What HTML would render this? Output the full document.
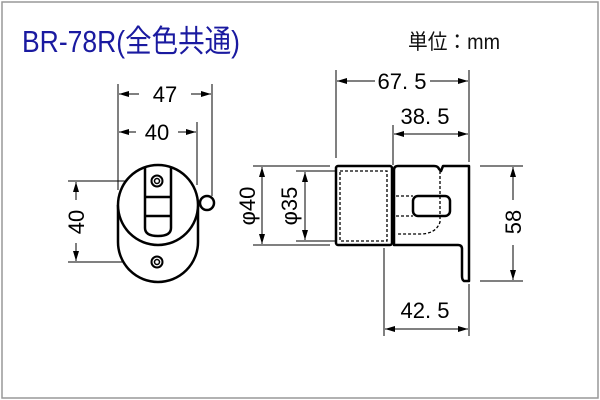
<!DOCTYPE html><html><head><meta charset="utf-8"><style>body{margin:0;background:#fff}svg{display:block}</style></head><body>
<svg width="600" height="400" viewBox="0 0 600 400" xmlns="http://www.w3.org/2000/svg" font-family="Liberation Sans, Noto Sans CJK JP, sans-serif">
<defs><marker id="a" viewBox="0 0 10 6" refX="10" refY="3" markerWidth="10" markerHeight="6" orient="auto-start-reverse" markerUnits="userSpaceOnUse"><path d="M0,0L10,3L0,6z" fill="#000"/></marker></defs>
<rect x="2" y="2" width="596" height="396" fill="none" stroke="#999" stroke-width="1.5"/>
<text x="22" y="52" font-size="31" fill="#1a1aa0" textLength="218" lengthAdjust="spacingAndGlyphs">BR-78R(全色共通)</text>
<text x="408" y="49" font-size="21" fill="#111" textLength="92" lengthAdjust="spacingAndGlyphs">単位：mm</text>
<g stroke="#000" stroke-width="1" fill="none">
<line x1="118" y1="84" x2="118" y2="190"/><line x1="212" y1="84" x2="212" y2="196"/>
<line x1="197" y1="122" x2="197" y2="185"/>
<line x1="119" y1="94" x2="139" y2="94" marker-start="url(#a)"/><line x1="191" y1="94" x2="211" y2="94" marker-end="url(#a)"/>
<line x1="119" y1="132" x2="136" y2="132" marker-start="url(#a)"/><line x1="178" y1="132" x2="196" y2="132" marker-end="url(#a)"/>
<line x1="68" y1="181" x2="152" y2="181"/><line x1="68" y1="262" x2="152" y2="262"/>
<line x1="76" y1="182" x2="76" y2="200" marker-start="url(#a)"/><line x1="76" y1="243" x2="76" y2="261" marker-end="url(#a)"/>
</g>
<g stroke="#000" stroke-width="2.5" fill="#fff">
<circle cx="207" cy="203" r="7"/>
<path d="M118,205 L118,242 A40,40 0 0 0 198,242 L198,205"/>
<circle cx="158" cy="205" r="40"/>
<path d="M145,168 L145,228 Q145,236 158,236 Q171,236 171,228 L171,168" fill="none"/>
<line x1="145" y1="197" x2="171" y2="197"/><line x1="145" y1="216" x2="171" y2="216"/>
<circle cx="157" cy="181" r="5.5" stroke-width="2"/><circle cx="157" cy="181" r="2.5" stroke-width="1.5"/>
<circle cx="157" cy="262" r="5.5" stroke-width="2"/><circle cx="157" cy="262" r="2.5" stroke-width="1.5"/>
</g>
<g font-size="22" text-anchor="middle" fill="#000">
<text x="165" y="102">47</text><text x="157" y="140">40</text>
<text transform="translate(84,222) rotate(-90)">40</text>
<text x="402" y="89">67. 5</text><text x="425" y="124">38. 5</text><text x="425" y="318">42. 5</text>
<text transform="translate(521,222) rotate(-90)">58</text>
<text transform="translate(255,206) rotate(-90)">φ40</text>
<text transform="translate(297,206) rotate(-90)">φ35</text>
</g>
<g stroke="#000" stroke-width="1" fill="none">
<line x1="336" y1="70" x2="336" y2="158"/><line x1="469" y1="70" x2="469" y2="162"/>
<line x1="337" y1="81" x2="375" y2="81" marker-start="url(#a)"/><line x1="430" y1="81" x2="468" y2="81" marker-end="url(#a)"/>
<line x1="393" y1="125" x2="393" y2="165"/>
<line x1="394" y1="134" x2="468" y2="134" marker-start="url(#a)" marker-end="url(#a)"/>
<line x1="253" y1="166" x2="330" y2="166"/><line x1="253" y1="245" x2="330" y2="245"/>
<line x1="262" y1="167" x2="262" y2="244" marker-start="url(#a)" marker-end="url(#a)"/>
<line x1="296" y1="171" x2="335" y2="171"/><line x1="296" y1="241" x2="335" y2="241"/>
<line x1="305" y1="172" x2="305" y2="240" marker-start="url(#a)" marker-end="url(#a)"/>
<line x1="480" y1="166" x2="523" y2="166"/><line x1="480" y1="281" x2="523" y2="281"/>
<line x1="513" y1="167" x2="513" y2="200" marker-start="url(#a)"/><line x1="513" y1="245" x2="513" y2="280" marker-end="url(#a)"/>
<line x1="384" y1="248" x2="384" y2="336"/><line x1="469" y1="284" x2="469" y2="336"/>
<line x1="385" y1="329" x2="468" y2="329" marker-start="url(#a)" marker-end="url(#a)"/>
</g>
<g stroke="#000" stroke-width="2.5" fill="none" stroke-linejoin="round">
<rect x="336" y="166" width="56" height="79" rx="2"/>
<path d="M394,245 L394,170 Q394,166 398,166 L434,166 Q438,166 439,169 L441,171 L443,166 L469,166 L469,281 L464,281 Q462,280 462,276 L462,249 Q462,245 458,245 Z"/>
<rect x="413" y="196" width="37" height="20" rx="5"/>
</g>
<g stroke="#000" stroke-width="1.3" fill="none" stroke-dasharray="3,2">
<rect x="340" y="171" width="47" height="70"/>
<path d="M440,171 L440,222 Q436,234 420,234 L396,234"/>
<line x1="396" y1="196" x2="413" y2="196"/><line x1="396" y1="216" x2="413" y2="216"/>
</g>
</svg>
</body></html>
